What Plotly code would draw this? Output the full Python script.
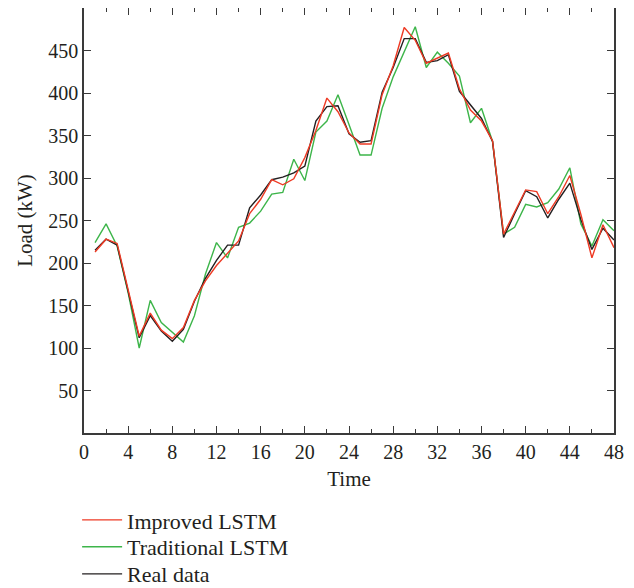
import plotly.graph_objects as go

time = list(range(1, 49))

real_data = [215, 228, 221, 168, 112, 138, 120, 108, 122, 155, 182, 203, 221, 221, 265, 280,
             298, 301, 306, 314, 367, 384, 385, 352, 342, 344, 401, 430, 464, 464, 436, 438,
             445, 402, 386, 370, 343, 230, 258, 285, 278, 253, 275, 294, 251, 216, 241, 227]

improved_lstm = [213, 228, 223, 170, 114, 141, 121, 111, 124, 156, 179, 197, 212, 226, 258, 275,
                 298, 292, 299, 324, 356, 394, 378, 353, 340, 340, 398, 432, 477, 462, 435, 441,
                 447, 405, 380, 367, 344, 234, 260, 286, 284, 258, 278, 303, 257, 206, 245, 218]

traditional_lstm = [224, 246, 220, 165, 100, 156, 130, 119, 107, 138, 187, 224, 206, 242, 247, 261,
                    281, 283, 322, 297, 354, 367, 398, 363, 327, 327, 382, 419, 448, 478, 430, 448,
                    435, 420, 365, 382, 343, 234, 242, 269, 266, 271, 287, 312, 246, 220, 251, 238]

x_ticks = list(range(0, 49, 4))
y_ticks = list(range(50, 451, 50))

FONT = "Liberation Serif"
TXT = "#231f20"
AX = "#3a3a3a"

fig = go.Figure()
fig.add_trace(go.Scatter(x=time, y=traditional_lstm, mode="lines", name="Traditional LSTM",
                         line=dict(color="#3db54a", width=1.4), legend="legend2"))
fig.add_trace(go.Scatter(x=time, y=real_data, mode="lines", name="Real data",
                         line=dict(color="#231f20", width=1.4), legend="legend3"))
fig.add_trace(go.Scatter(x=time, y=improved_lstm, mode="lines", name="Improved LSTM",
                         line=dict(color="#ee3a24", width=1.4), legend="legend"))

axis_common = dict(showline=True, linecolor=AX, linewidth=1.5, mirror="ticks",
                   ticks="inside", tickcolor=AX, tickwidth=1.3, showgrid=False,
                   zeroline=False, automargin=False,
                   tickfont=dict(family=FONT, size=20, color=TXT))

fig.update_xaxes(range=[0, 48], tickvals=x_ticks, ticklen=7,
                 minor=dict(dtick=2, tick0=0, ticks="inside", ticklen=4, tickcolor=AX, showgrid=False),
                 title=dict(text="Time", font=dict(family=FONT, size=21, color=TXT), standoff=10),
                 **axis_common)
fig.update_yaxes(range=[0, 500], tickvals=y_ticks, ticklen=7,
                 title=dict(text="Load (kW)", font=dict(family=FONT, size=21, color=TXT), standoff=10),
                 **axis_common)

legend_common = dict(x=-0.013, xanchor="left", yanchor="middle", orientation="v",
                     font=dict(family=FONT, size=22, color=TXT),
                     itemwidth=40, bgcolor="rgba(0,0,0,0)")

fig.update_layout(
    width=626, height=580,
    margin=dict(l=76, r=20, t=0, b=155, autoexpand=False),
    plot_bgcolor="white", paper_bgcolor="white",
    legend=dict(y=-0.205, **legend_common),
    legend2=dict(y=-0.268, **legend_common),
    legend3=dict(y=-0.332, **legend_common),
    showlegend=True,
)

fig.write_html("out.html")
